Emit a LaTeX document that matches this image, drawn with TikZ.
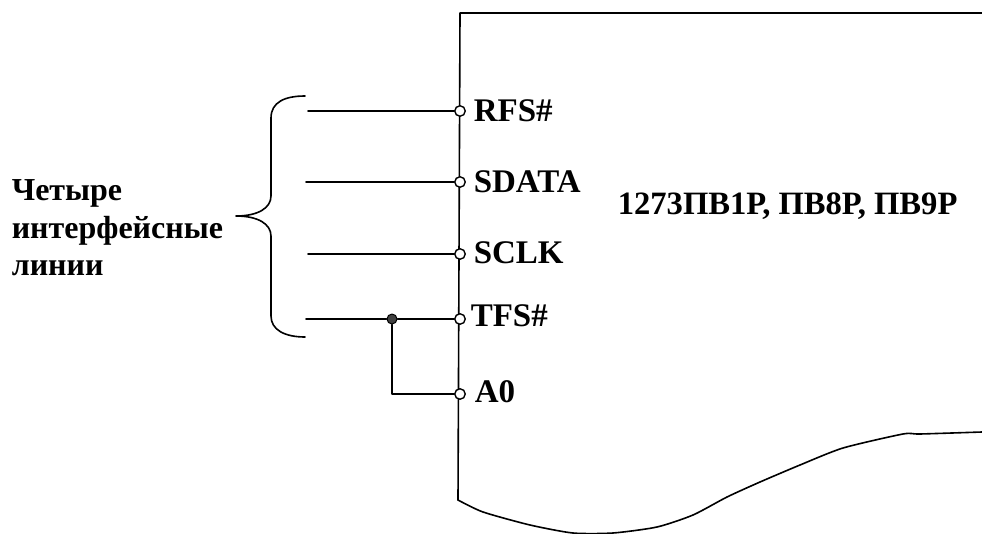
\documentclass[tikz,border=0pt]{standalone}
\usepackage{fontspec}
\setmainfont{Liberation Serif}
\begin{document}
\begin{tikzpicture}[x=1pt, y=-1pt, line cap=round, line join=round, line width=1.6pt, font=\fontsize{33}{37.5}\selectfont\bfseries]
	\tikzset{pin style/.style={circle, draw, fill=white, line width=1.4pt, inner sep=0pt, minimum size=10.5pt},
		dot style/.style={circle, draw, fill=black!75, line width=1pt, inner sep=0pt, minimum size=10pt},
		label style/.style={anchor=base west, inner sep=0pt}}
	\useasboundingbox (0,0) rectangle (982,533);
	\draw (982,13)--(460,13)--(458,500);
	\draw[smooth, tension=0.4] plot coordinates {(458,500) (483,512) (530,525) (573,533) (613,533) (657,527) (693,515) (727,497) (760,482) (800,465) (843,448) (903,434) (920,434) (982,432)};
	\node[pin style] (rfs) at (460,111) {};
	\node[pin style] (sdata) at (460,182) {};
	\node[pin style] (sclk) at (460,254) {};
	\node[pin style] (tfs) at (460,319) {};
	\node[pin style] (azero) at (460,394) {};
	\coordinate (rfsend) at (308,111);
	\coordinate (sdataend) at (306,182);
	\coordinate (sclkend) at (308,254);
	\coordinate (tfsend) at (306,319);
	\node[dot style] (join) at (392,319) {};
	\draw (rfsend)--(rfs);
	\draw (sdataend)--(sdata);
	\draw (sclkend)--(sclk);
	\draw (tfsend)--(join);
	\draw (join)--(tfs);
	\draw (join)--(392,394)--(azero);
	\draw (305,96) .. controls (285,96) and (271,102) .. (271,118)--(271,196) .. controls (271,208) and (258,216) .. (236,216) .. controls (258,216) and (271,224) .. (271,236)--(271,316) .. controls (271,330) and (285,337) .. (305,337);
	\node[label style] at (473,121) {RFS\#};
	\node[label style] at (473,192) {SDATA};
	\node[label style] at (473,263) {SCLK};
	\node[label style] at (470,326) {TFS\#};
	\node[label style] at (474,402) {A0};
	\node[label style, font=\fontsize{32.6}{37.5}\selectfont\bfseries] at (617,214) {1273ПВ1Р, ПВ8Р, ПВ9Р};
	\node[anchor=west, inner sep=0pt, align=left, font=\fontsize{32}{37.5}\selectfont\bfseries] at (11,228) {Четыре\\интерфейсные\\линии};
\end{tikzpicture}
\end{document}
